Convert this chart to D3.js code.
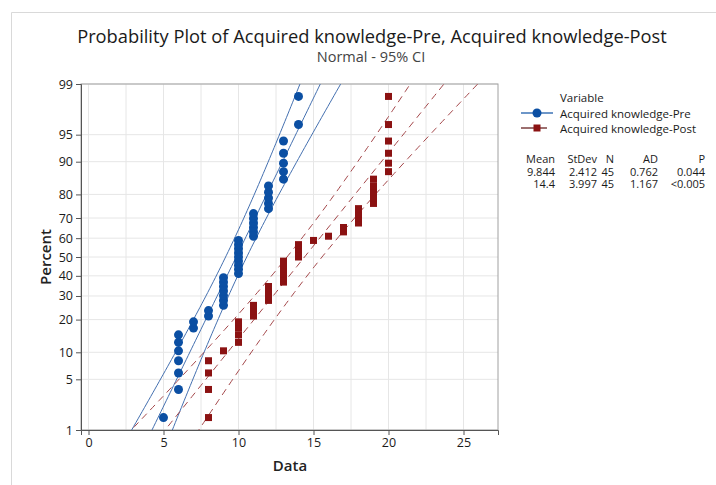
<!DOCTYPE html>
<html>
<head>
<meta charset="utf-8">
<script src="https://cdn.jsdelivr.net/npm/d3@7"></script>
<style>
  body { margin: 0; background: #fff; }
  text { font-family: "Open Sans", "Noto Sans", sans-serif; }
</style>
</head>
<body>
<svg id="chart" width="716" height="485"></svg>
<script>
// scores and how many of the 45 students got each one
const preScores  = [5, 6, 7, 8, 9, 10, 11, 12, 13, 14];
const preCounts  = [1, 6, 2, 2, 7, 9, 6, 5, 5, 2];
const postScores = [8, 9, 10, 11, 12, 13, 14, 15, 16, 17, 18, 19, 20];
const postCounts = [4, 1, 4, 3, 4, 6, 4, 1, 1, 2, 4, 5, 6];

const seriesNames = ["Acquired knowledge-Pre", "Acquired knowledge-Post"];
const means   = [9.844, 14.4];
const stdevs  = [2.412, 3.997];
const nValues = [45, 45];
const meanLabels  = ["9.844", "14.4"];
const stdevLabels = ["2.412", "3.997"];
const adLabels    = ["0.762", "1.167"];
const pLabels     = ["0.044", "<0.005"];

const xTicks = [0, 5, 10, 15, 20, 25];
const yTicks = [1, 5, 10, 20, 30, 40, 50, 60, 70, 80, 90, 95, 99];

// inverse normal cdf (Acklam)
function qnorm(p) {
    const a = [-39.6968302866538, 220.946098424521, -275.928510446969, 138.357751867269, -30.6647980661472, 2.50662827745924];
    const b = [-54.4760987982241, 161.585836858041, -155.698979859887, 66.8013118877197, -13.2806815528857];
    const c = [-0.00778489400243029, -0.322396458041136, -2.40075827716184, -2.54973253934373, 4.37466414146497, 2.93816398269878];
    const d = [0.00778469570904146, 0.32246712907004, 2.445134137143, 3.75440866190742];
    const pl = 0.02425;
    let q, r;
    if (p < pl) {
        q = Math.sqrt(-2 * Math.log(p));
        return (((((c[0]*q+c[1])*q+c[2])*q+c[3])*q+c[4])*q+c[5]) / ((((d[0]*q+d[1])*q+d[2])*q+d[3])*q+1);
    }
    if (p > 1 - pl) {
        q = Math.sqrt(-2 * Math.log(1 - p));
        return -(((((c[0]*q+c[1])*q+c[2])*q+c[3])*q+c[4])*q+c[5]) / ((((d[0]*q+d[1])*q+d[2])*q+d[3])*q+1);
    }
    q = p - 0.5; r = q * q;
    return (((((a[0]*r+a[1])*r+a[2])*r+a[3])*r+a[4])*r+a[5])*q / (((((b[0]*r+b[1])*r+b[2])*r+b[3])*r+b[4])*r+1);
}

// expand counts to sorted values, plot at median ranks
function points(scores, counts) {
    const vals = [];
    scores.forEach((s, i) => { for (let k = 0; k < counts[i]; k++) vals.push(s); });
    const n = vals.length;
    return vals.map((v, i) => ({ x: v, p: (i + 1 - 0.3) / (n + 0.4) }));
}
const series = [points(preScores, preCounts), points(postScores, postCounts)];

const svg = d3.select("#chart");
const plot = { left: 81, right: 498, top: 84, bottom: 430 };

// outer frame
svg.append("path")
    .attr("d", "M11.5,485 V12.5 H716")
    .attr("fill", "none").attr("stroke", "#d9d9d9");

// titles
svg.append("text").attr("x", 372).attr("y", 43).attr("text-anchor", "middle")
    .attr("font-size", 18.3).attr("fill", "#1a1a1a")
    .text("Probability Plot of Acquired knowledge-Pre, Acquired knowledge-Post");
svg.append("text").attr("x", 371).attr("y", 62).attr("text-anchor", "middle")
    .attr("font-size", 14.5).attr("fill", "#444")
    .text("Normal - 95% CI");

const x = d3.scaleLinear().domain([-0.5, 27.3]).range([plot.left, plot.right]);
const zLo = qnorm(0.01), zHi = qnorm(0.99);
const y = d3.scaleLinear().domain([zLo, zHi]).range([plot.bottom, plot.top]);
const yp = p => y(qnorm(p / 100));

// grid
const grid = svg.append("g");
grid.selectAll(".gx").data(d3.range(0, 27.3, 2.5)).enter().append("line")
    .attr("x1", d => x(d)).attr("x2", d => x(d))
    .attr("y1", plot.top).attr("y2", plot.bottom)
    .attr("stroke", "#e6e6e6");
grid.selectAll(".gy").data(yTicks).enter().append("line")
    .attr("x1", plot.left).attr("x2", plot.right)
    .attr("y1", d => yp(d)).attr("y2", d => yp(d))
    .attr("stroke", "#e6e6e6");

// frame of plot area
svg.append("rect")
    .attr("x", plot.left).attr("y", plot.top)
    .attr("width", plot.right - plot.left).attr("height", plot.bottom - plot.top)
    .attr("fill", "none").attr("stroke", "#a0a0a0");

// axes
const xAxis = svg.append("g").attr("transform", `translate(0,${plot.bottom})`)
    .call(d3.axisBottom(x).tickValues(xTicks).tickSize(5).tickPadding(3));
const yAxis = svg.append("g").attr("transform", `translate(${plot.left},0)`)
    .call(d3.axisLeft(y)
        .tickValues(yTicks.map(t => qnorm(t / 100)))
        .tickFormat((d, i) => yTicks[i]).tickSize(5).tickPadding(3));
[xAxis, yAxis].forEach(a => {
    a.select(".domain").attr("stroke", "#555");
    a.selectAll(".tick line").attr("stroke", "#555");
    a.selectAll(".tick text").attr("font-size", 12.5).attr("fill", "#1a1a1a")
        .attr("font-family", "'Open Sans', sans-serif");
});

svg.append("text").attr("x", 290).attr("y", 471).attr("text-anchor", "middle")
    .attr("font-size", 15).attr("font-weight", 600).attr("fill", "#222").text("Data");
svg.append("text").attr("transform", "translate(51,257) rotate(-90)")
    .attr("text-anchor", "middle")
    .attr("font-size", 15).attr("font-weight", 600).attr("fill", "#222").text("Percent");

// fitted lines and 95% CI
svg.append("clipPath").attr("id", "clip").append("rect")
    .attr("x", plot.left).attr("y", plot.top)
    .attr("width", plot.right - plot.left).attr("height", plot.bottom - plot.top);
const lines = svg.append("g").attr("clip-path", "url(#clip)");
const lineColors = ["#4470b0", "#a4474a"];
const zs = d3.range(zLo - 0.2, zHi + 0.21, 0.05);
const line = d3.line().x(d => x(d[0])).y(d => y(d[1]));
series.forEach((s, i) => {
    const m = means[i], sd = stdevs[i], n = nValues[i];
    [-1, 0, 1].forEach(k => {
        const pts = zs.map(z => [m + z * sd + k * 1.96 * sd * Math.sqrt(1 / n + z * z / (2 * n)), z]);
        lines.append("path").attr("d", line(pts))
            .attr("fill", "none").attr("stroke", lineColors[i]).attr("stroke-width", 1)
            .attr("stroke-dasharray", i === 1 ? "7,5" : null);
    });
});

// points
const markColors = ["#0b4fa3", "#8b1212"];
svg.append("g").selectAll("circle").data(series[0]).enter().append("circle")
    .attr("cx", d => x(d.x)).attr("cy", d => y(qnorm(d.p)))
    .attr("r", 4.5).attr("fill", markColors[0]);
svg.append("g").selectAll("rect").data(series[1]).enter().append("rect")
    .attr("x", d => x(d.x) - 3.5).attr("y", d => y(qnorm(d.p)) - 3.5)
    .attr("width", 7).attr("height", 7).attr("fill", markColors[1]);

// legend
const lg = svg.append("g").attr("font-size", 11.5).attr("fill", "#1a1a1a");
lg.append("text").attr("x", 560).attr("y", 102).text("Variable");
[113, 128].forEach((ly, i) => {
    lg.append("line").attr("x1", 521).attr("x2", i ? 547 : 553).attr("y1", ly).attr("y2", ly)
        .attr("stroke", i ? "#5a1010" : markColors[0]).attr("stroke-width", 1.2);
    if (i === 0) lg.append("circle").attr("cx", 537).attr("cy", ly).attr("r", 4.5).attr("fill", markColors[0]);
    else lg.append("rect").attr("x", 533.5).attr("y", ly - 3.5).attr("width", 7).attr("height", 7).attr("fill", markColors[1]);
    lg.append("text").attr("x", 560).attr("y", ly + 4.5).text(seriesNames[i]);
});

// statistics table
const colRight = [555, 597, 614, 658, 705];
const header = ["Mean", "StDev", "N", "AD", "P"];
const rows = [header].concat(series.map((s, i) =>
    [meanLabels[i], stdevLabels[i], String(nValues[i]), adLabels[i], pLabels[i]]));
const table = svg.append("g").attr("font-size", 11).attr("fill", "#1a1a1a");
rows.forEach((r, j) => {
    r.forEach((t, c) => {
        table.append("text").attr("x", colRight[c]).attr("y", 163 + j * 12.5)
            .attr("text-anchor", "end").text(t);
    });
});
</script>
</body>
</html>
